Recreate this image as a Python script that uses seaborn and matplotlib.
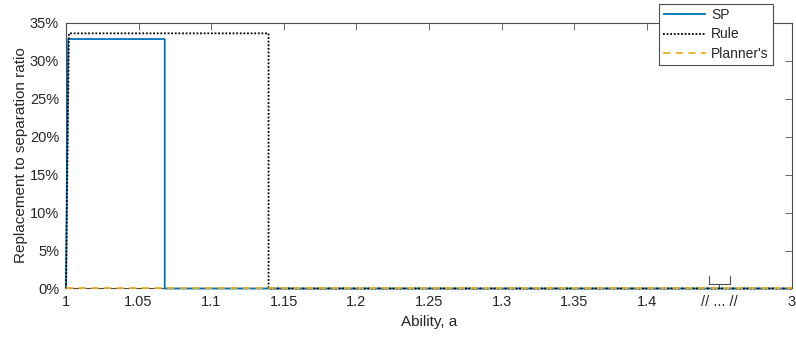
import numpy as np
import pandas as pd
import matplotlib
matplotlib.use("Agg")
import matplotlib.pyplot as plt
import matplotlib.transforms as mtransforms
import seaborn as sns

# Ability grid (breakpoints) and replacement-to-separation ratios per policy
sp_ability = [1.0, 1.0015, 1.068, 1.068, 3.0]
sp_ratio = [0.0, 0.3285, 0.3285, 0.0, 0.0]

rule_ability = [1.0, 1.002, 1.1395, 1.1395, 3.0]
rule_ratio = [0.0, 0.336, 0.336, 0.0, 0.0]

planner_ability = [1.0, 3.0]
planner_ratio = [0.0, 0.0]

x_tick_values = [1.0, 1.05, 1.1, 1.15, 1.2, 1.25, 1.3, 1.35, 1.4, 1.45, 3.0]
x_tick_labels = ["1", "1.05", "1.1", "1.15", "1.2", "1.25", "1.3", "1.35", "1.4", "// ... //", "3"]
y_ticks = [0.0, 0.05, 0.10, 0.15, 0.20, 0.25, 0.30, 0.35]

BREAK_START, BREAK_END, AXIS_END = 1.45, 1.5, 3.0


def to_axis(a):
    """Map ability onto a broken axis: linear up to 1.45, compressed tail up to 3."""
    a = np.asarray(a, dtype=float)
    tail = BREAK_START + (a - BREAK_START) / (AXIS_END - BREAK_START) * (BREAK_END - BREAK_START)
    return np.where(a <= BREAK_START, a, tail)


sns.set_theme(style="white")
plt.rcParams["font.family"] = ["Liberation Sans", "DejaVu Sans"]

fig = plt.figure(figsize=(7.96, 3.39), dpi=100)
ax = fig.add_axes([0.0829, 0.149, 0.9121, 0.784])

series = [
    ("SP", sp_ability, sp_ratio, "#0072BD", (0, ()), 1.3),
    ("Rule", rule_ability, rule_ratio, "black", (0, (1, 1)), 1.3),
    ("Planner's", planner_ability, planner_ratio, "#EDB120", (0, (4, 3)), 1.3),
]
for i, (name, a, r, color, ls, lw) in enumerate(series):
    df = pd.DataFrame({"pos": to_axis(a), "ratio": r})
    sns.lineplot(data=df, x="pos", y="ratio", ax=ax, color=color, linestyle=ls,
                 linewidth=lw, sort=False, estimator=None, label=name)
    line = ax.get_lines()[-1]
    line.set_clip_on(False)
    line.set_zorder(3 + i)

ax.set_xlim(1.0, 1.5)
ax.set_ylim(0.0, 0.35)
ax.set_xticks(to_axis(x_tick_values))
ax.set_xticklabels(x_tick_labels)
ax.set_yticks(y_ticks)
ax.set_yticklabels([f"{int(round(v * 100))}%" for v in y_ticks])

ax.tick_params(axis="both", direction="in", length=5, width=0.6, color="#4d4d4d",
               labelsize=10.5, labelcolor="#262626", top=True, right=True, pad=5)
for sp in ax.spines.values():
    sp.set_color("#4d4d4d")
    sp.set_linewidth(0.8)
    sp.set_zorder(2)

ax.set_xlabel("Ability, a", fontsize=11, color="#262626", labelpad=4)
ax.set_ylabel("Replacement to separation ratio", fontsize=11, color="#262626", labelpad=1)

# Axis-break bracket above the "// ... //" tick
trans = mtransforms.blended_transform_factory(ax.transData, ax.transAxes)
bx0, bx1, bmid = 1.4425, 1.4575, 1.45
ax.plot([bx0, bx0, bx1, bx1], [0.047, 0.016, 0.016, 0.047], transform=trans,
        color="#4d4d4d", lw=0.8, clip_on=False)
ax.plot([bmid, bmid], [0.016, 0.0], transform=trans, color="#4d4d4d", lw=0.8)

leg = ax.legend(loc="upper right", bbox_to_anchor=(773 / 796, 1 - 4 / 339),
                bbox_transform=fig.transFigure, fontsize=10, handlelength=3.1,
                handletextpad=0.35, labelspacing=0.38, borderpad=0.3,
                borderaxespad=0, frameon=True, fancybox=False, framealpha=1,
                edgecolor="#4d4d4d")
leg.get_frame().set_linewidth(0.8)
leg.set_zorder(10)
for t in leg.get_texts():
    t.set_color("#262626")

fig.savefig("out.png", dpi=100)
